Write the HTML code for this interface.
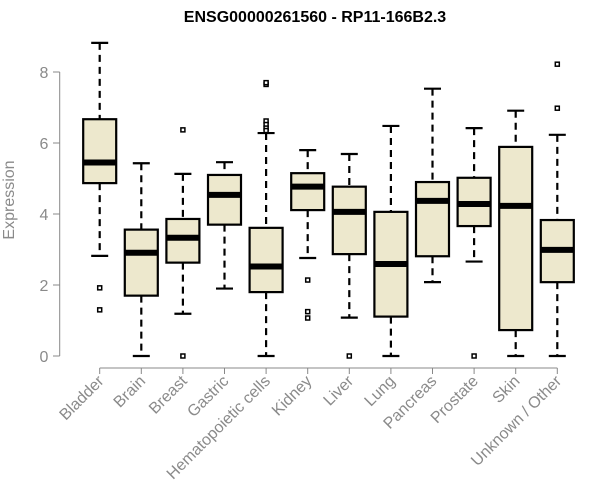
<!DOCTYPE html>
<html><head><meta charset="utf-8"><style>
body{margin:0;background:#fff}
svg{display:block;font-family:"Liberation Sans",Arial,sans-serif}
</style></head><body>
<svg id="c" width="600" height="500">
<text x="315" y="22" text-anchor="middle" font-weight="bold" font-size="16" fill="#000">ENSG00000261560 - RP11-166B2.3</text>
<text transform="translate(14,200) rotate(-90)" text-anchor="middle" font-size="16" fill="#8a8a8a">Expression</text>
<g id="g"></g>
</svg>
<script>
const categories=["Bladder","Brain","Breast","Gastric","Hematopoietic cells","Kidney","Liver","Lung","Pancreas","Prostate","Skin","Unknown / Other"];
const lows=[2.82,0,1.19,1.90,0,2.76,1.08,0,2.08,2.66,0,0];
const q1s=[4.87,1.70,2.63,3.70,1.80,4.11,2.87,1.11,2.81,3.66,0.73,2.08];
const medians=[5.45,2.91,3.33,4.54,2.52,4.77,4.06,2.59,4.37,4.28,4.23,2.99];
const q3s=[6.67,3.56,3.86,5.10,3.61,5.15,4.77,4.06,4.90,5.02,5.89,3.83];
const highs=[8.82,5.43,5.13,5.46,6.28,5.80,5.69,6.48,7.53,6.42,6.91,6.23];
const outliers=[[1.92,1.30],[],[6.37,0],[],[7.65,7.70,6.62,6.52,6.42,6.35],[2.14,1.25,1.07],[0],[],[],[0],[],[8.22,6.98]];
const yTicks=[0,2,4,6,8];
const NS="http://www.w3.org/2000/svg";
const g=document.getElementById("g");
const y=v=>356-v*35.5;
const x=i=>99.7+i*41.6;
function mk(t,a,p){const e=document.createElementNS(NS,t);for(const k in a)e.setAttribute(k,a[k]);(p||g).appendChild(e);return e;}
let ya=mk("line",{x1:59.7,x2:59.7,y1:y(8),y2:y(0),stroke:"#888","stroke-width":1});


yTicks.forEach(v=>{
 mk("line",{x1:53,x2:59.7,y1:y(v),y2:y(v),stroke:"#888"});
 const t=mk("text",{x:44,y:y(v)+6,"text-anchor":"middle","font-size":16,fill:"#8a8a8a"});
 t.textContent=v;
 
 
});
let xa=mk("line",{x1:x(0),x2:x(11),y1:368,y2:368,stroke:"#888"});


categories.forEach((c,i)=>{
 const cx=x(i),bw=33,cw=17;
 mk("line",{x1:cx,x2:cx,y1:368,y2:374,stroke:"#888"});
 const t=mk("text",{transform:`translate(${cx+5},${382}) rotate(-45)`,"text-anchor":"end","font-size":16,fill:"#8a8a8a"});
 t.textContent=c;
 
 
 const grp=mk("g",{});
 
 
 mk("line",{x1:cx,x2:cx,y1:y(highs[i]),y2:y(q3s[i]),stroke:"#000","stroke-width":2.2,"stroke-dasharray":"7,5"},grp);
 mk("line",{x1:cx,x2:cx,y1:y(q1s[i]),y2:y(lows[i]),stroke:"#000","stroke-width":2.2,"stroke-dasharray":"7,5"},grp);
 mk("line",{x1:cx-cw/2,x2:cx+cw/2,y1:y(highs[i]),y2:y(highs[i]),stroke:"#000","stroke-width":2.2},grp);
 mk("line",{x1:cx-cw/2,x2:cx+cw/2,y1:y(lows[i]),y2:y(lows[i]),stroke:"#000","stroke-width":2.2},grp);
 mk("rect",{x:cx-bw/2,y:y(q3s[i]),width:bw,height:y(q1s[i])-y(q3s[i]),fill:"#ede8cd",stroke:"#000","stroke-width":2.2},grp);
 mk("line",{x1:cx-bw/2,x2:cx+bw/2,y1:y(medians[i]),y2:y(medians[i]),stroke:"#000","stroke-width":6},grp);
 outliers[i].forEach(v=>{
  const o=mk("rect",{x:cx-2,y:y(v)-2,width:4,height:4,fill:"#fff",stroke:"#000","stroke-width":1.5},grp);
  
  
 });
});
</script>
</body></html>
